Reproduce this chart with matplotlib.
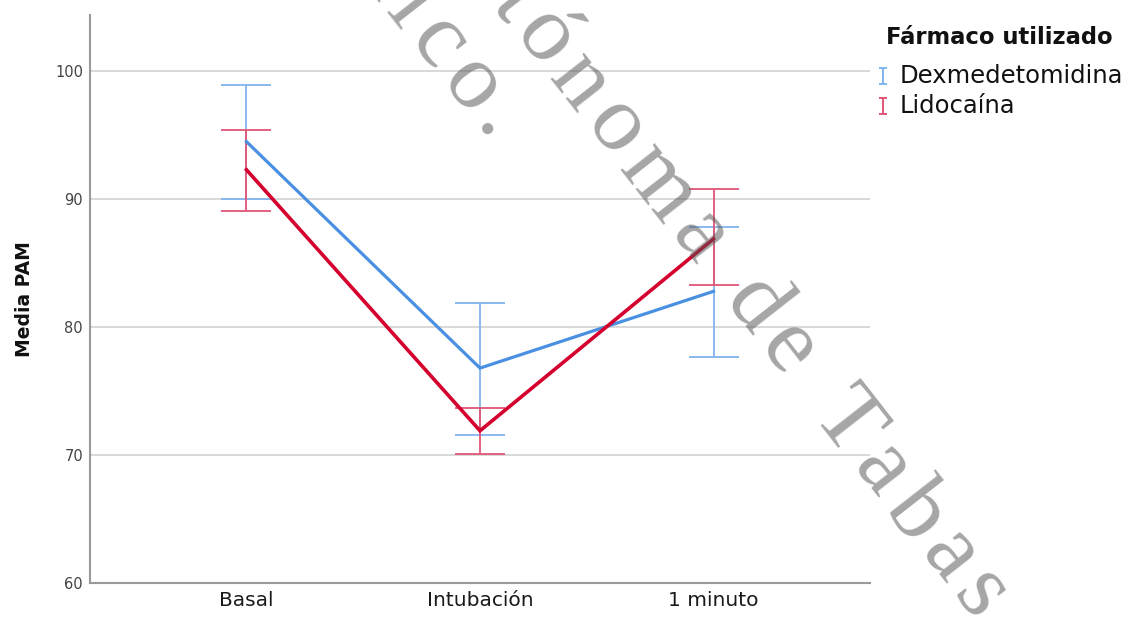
import math
import matplotlib
matplotlib.use("Agg")
import matplotlib.pyplot as plt
from matplotlib.path import Path
from matplotlib.lines import Line2D
from matplotlib.font_manager import FontProperties, findfont
from matplotlib.ft2font import FT2Font

# Mean arterial pressure by moment and drug, with 95% CI limits
categories = ["Basal", "Intubación", "1 minuto"]
groups = ["Dexmedetomidina", "Lidocaína"]
dex_mean = [94.5, 76.8, 82.8]
dex_low = [90.0, 71.6, 77.7]
dex_high = [98.9, 81.9, 87.8]
lido_mean = [92.3, 71.9, 86.9]
lido_low = [89.1, 70.1, 83.3]
lido_high = [95.4, 73.7, 90.8]
y_ticks = [60, 70, 80, 90, 100]

W, H = 1138, 617
fig = plt.figure(figsize=(W / 100, H / 100), dpi=100)
ax = fig.add_axes([90 / W, 1 - 583 / H, 780 / W, 568 / H])

x = list(range(len(categories)))
series = [
    (dex_mean, dex_low, dex_high, "#4a90e2", "#82b3ee", 2.3, 3),
    (lido_mean, lido_low, lido_high, "#d4002d", "#e25576", 2.6, 4),
]
for mean, low, high, col, ecol, lw, z in series:
    err = [[m - l for m, l in zip(mean, low)], [h - m for m, h in zip(mean, high)]]
    ax.errorbar(x, mean, yerr=err, fmt="none", ecolor=ecol, elinewidth=1.3,
                capsize=18, capthick=1.3, zorder=2)
    ax.plot(x, mean, color=col, lw=lw, zorder=z, solid_joinstyle="miter")

ax.set_xlim(-0.67, 2.67)
ax.set_ylim(60, 104.4)
ax.set_xticks(x)
ax.set_xticklabels(categories, fontsize=14.5, color="#1a1a1a")
ax.set_yticks(y_ticks)
ax.set_yticklabels([str(v) for v in y_ticks], fontsize=10.5, color="#444444")
ax.tick_params(length=0)
ax.tick_params(axis="y", pad=5)
ax.tick_params(axis="x", pad=6)
ax.yaxis.grid(True, color="#d2d2d2", lw=1.2)
ax.set_axisbelow(True)
for side in ("top", "right"):
    ax.spines[side].set_visible(False)
for side in ("left", "bottom"):
    ax.spines[side].set_color("#9a9a9a")
    ax.spines[side].set_linewidth(1.5)
ax.set_ylabel("Media PAM", fontsize=13.5, fontweight="bold", color="#111111", labelpad=15)

# Legend with error-bar style keys
ibeam = Path([(-0.5, 1), (0.5, 1), (0, 1), (0, -1), (-0.5, -1), (0.5, -1)],
             [Path.MOVETO, Path.LINETO, Path.MOVETO, Path.LINETO, Path.MOVETO, Path.LINETO])
fig.text(886 / W, 1 - 37 / H, "Fármaco utilizado", fontsize=16.3, fontweight="bold",
         color="#111111", ha="left", va="center")
for label, col, ypx in [(groups[0], "#82b3ee", 76), (groups[1], "#e25576", 106)]:
    fig.add_artist(Line2D([883 / W], [1 - ypx / H], marker=ibeam, markersize=11,
                          markeredgewidth=1.4, markeredgecolor=col, linestyle="none",
                          transform=fig.transFigure))
    fig.text(900 / W, 1 - ypx / H, label, fontsize=17.5, color="#111111",
             ha="left", va="center")

# Diagonal letter-spaced watermark, set glyph by glyph
SERIF = ["Liberation Serif", "Times New Roman", "Nimbus Roman", "DejaVu Serif"]


def draw_tracked(text, anchor_idx, anchor_px, size, tracking, angle_deg):
    prop = FontProperties(family=SERIF, size=size)
    font = FT2Font(findfont(prop))
    font.set_size(size, fig.dpi)
    adv = [font.load_char(ord(c)).linearHoriAdvance / 65536 for c in text]
    a = math.radians(angle_deg)
    dx, dy = math.cos(a), math.sin(a)
    pos, s = [], 0.0
    for v in adv:
        pos.append(s)
        s += v + tracking
    s0 = pos[anchor_idx]
    for c, p in zip(text, pos):
        if c == " ":
            continue
        xp = anchor_px[0] + (p - s0) * dx
        yp = anchor_px[1] + (p - s0) * dy
        if xp < -60 or yp < -60 or xp > W + 10 or yp > H + 10:
            continue
        fig.text(xp / W, 1 - yp / H, c, family=SERIF, fontsize=size, color="#545454",
                 alpha=0.52, rotation=-angle_deg, rotation_mode="anchor",
                 ha="left", va="baseline", zorder=10)


line_a = "Universidad Juárez Autónoma de Tabasco."
line_b = "México."
draw_tracked(line_a, line_a.index("Tabasco"), (810, 414), 68, 10, 52)
draw_tracked(line_b, line_b.index("."), (474, 126), 68, 10, 52)

fig.savefig("out.png", dpi=100)
